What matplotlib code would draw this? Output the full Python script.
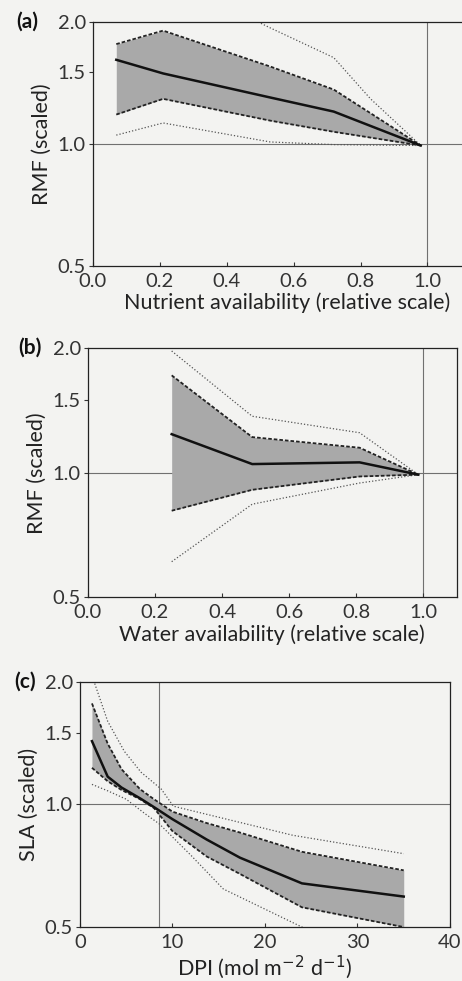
import matplotlib
matplotlib.use("Agg")
import matplotlib.pyplot as plt
from matplotlib.ticker import FixedLocator, FixedFormatter, NullLocator

plt.rcParams['font.family'] = ['Lato', 'DejaVu Sans']

# (a) nutrient availability
xa = [0.07, 0.21, 0.53, 0.72, 0.98]
mean_a = [1.61, 1.49, 1.30, 1.20, 0.99]
upper_a = [1.76, 1.90, 1.55, 1.36, 0.99]
lower_a = [1.18, 1.29, 1.14, 1.07, 0.99]
xa_dup = [0.21, 0.53, 0.72, 0.83, 0.98]
dotup_a = [2.6, 1.93, 1.63, 1.29, 0.99]
xa_dlo = [0.07, 0.21, 0.53, 0.72, 0.98]
dotlo_a = [1.05, 1.125, 1.01, 0.995, 0.99]

# (b) water availability
xb = [0.25, 0.49, 0.81, 0.985]
mean_b = [1.24, 1.05, 1.06, 0.99]
upper_b = [1.72, 1.22, 1.15, 0.99]
lower_b = [0.81, 0.91, 0.98, 0.99]
dotup_b = [1.97, 1.37, 1.25, 0.99]
dotlo_b = [0.61, 0.84, 0.945, 0.99]

# (c) DPI
xc = [1.3, 3, 4.5, 6.5, 8, 10, 13.7, 17.3, 24, 35]
mean_c = [1.43, 1.17, 1.10, 1.035, 0.985, 0.92, 0.82, 0.74, 0.64, 0.594]
upper_c = [1.77, 1.41, 1.22, 1.09, 1.03, 0.96, 0.90, 0.853, 0.765, 0.689]
lower_c = [1.23, 1.14, 1.085, 1.03, 0.98, 0.86, 0.745, 0.675, 0.559, 0.50]
xc_dup = [1.6, 3, 4.8, 6.6, 8.8, 10.1, 23, 35]
dotup_c = [1.98, 1.6, 1.35, 1.2, 1.09, 0.99, 0.84, 0.757]
xc_dlo = [1.3, 3, 5, 7, 8.6, 12, 15.5, 24, 35]
dotlo_c = [1.12, 1.08, 1.03, 0.95, 0.895, 0.75, 0.62, 0.50, 0.42]

yticks = [0.5, 1.0, 1.5, 2.0]
ylabels = ['0.5', '1.0', '1.5', '2.0']

bg = '#f3f3f1'
fill = '#a9a9a9'
refc = '#707070'

fig = plt.figure(figsize=(4.62, 9.81), dpi=100, facecolor=bg)


def panel(rect, x, mean, lo, hi, xdu, du, xdl, dl, xlim, xt, xtl, xlabel, ylabel, vline, letter, lx, ly):
    ax = fig.add_axes(rect)
    ax.set_facecolor(bg)
    ax.fill_between(x, lo, hi, color=fill, lw=0, zorder=1)
    ax.plot(x, hi, color='#222222', lw=1.3, ls=(0, (2.0, 1.1)), zorder=3)
    ax.plot(x, lo, color='#222222', lw=1.3, ls=(0, (2.0, 1.1)), zorder=3)
    ax.plot(x, mean, color='#111111', lw=1.8, zorder=4)
    ax.plot(xdu, du, color='#555555', lw=0.9, ls=(0, (1, 1.6)), zorder=2)
    ax.plot(xdl, dl, color='#555555', lw=0.9, ls=(0, (1, 1.6)), zorder=2)
    ax.axhline(1.0, color=refc, lw=0.8, zorder=0)
    ax.axvline(vline, color=refc, lw=0.8, zorder=0)
    ax.set_yscale('log')
    ax.set_ylim(0.5, 2.0)
    ax.set_xlim(*xlim)
    ax.yaxis.set_major_locator(FixedLocator(yticks))
    ax.yaxis.set_major_formatter(FixedFormatter(ylabels))
    ax.yaxis.set_minor_locator(NullLocator())
    ax.set_xticks(xt)
    ax.set_xticklabels(xtl)
    ax.tick_params(axis='y', direction='out', length=3, width=0.8, pad=2, labelsize=14.5, colors='#333333')
    ax.tick_params(axis='x', direction='in', length=3, width=0.8, pad=5, labelsize=14.5, colors='#333333')
    for s in ax.spines.values():
        s.set_linewidth(0.9)
        s.set_color('#222222')
    ax.set_xlabel(xlabel, fontsize=15.5, color='#222222', labelpad=2)
    ax.set_ylabel(ylabel, fontsize=15.5, color='#222222', labelpad=4)
    fig.text(lx, ly, letter, fontsize=15, fontweight='bold', color='#111111', va='center', ha='left')
    return ax


panel([0.201, 0.729, 0.84, 0.249], xa, mean_a, lower_a, upper_a, xa_dup, dotup_a, xa_dlo, dotlo_a,
      (0, 1.16), [0, 0.2, 0.4, 0.6, 0.8, 1.0], ['0.0', '0.2', '0.4', '0.6', '0.8', '1.0'],
      'Nutrient availability (relative scale)', 'RMF (scaled)', 1.0, '(a)', 0.035, 1 - 22 / 981)

panel([0.190, 0.391, 0.799, 0.254], xb, mean_b, lower_b, upper_b, xb, dotup_b, xb, dotlo_b,
      (0, 1.1), [0, 0.2, 0.4, 0.6, 0.8, 1.0], ['0.0', '0.2', '0.4', '0.6', '0.8', '1.0'],
      'Water availability (relative scale)', 'RMF (scaled)', 1.0, '(b)', 0.04, 1 - 348 / 981)

panel([0.173, 0.055, 0.801, 0.250], xc, mean_c, lower_c, upper_c, xc_dup, dotup_c, xc_dlo, dotlo_c,
      (0, 40), [0, 10, 20, 30, 40], ['0', '10', '20', '30', '40'],
      'DPI (mol m$^{\u22122}$ d$^{\u22121}$)', 'SLA (scaled)', 8.5, '(c)', 0.03, 1 - 682 / 981)

fig.savefig('out.png', dpi=100, facecolor=bg)
